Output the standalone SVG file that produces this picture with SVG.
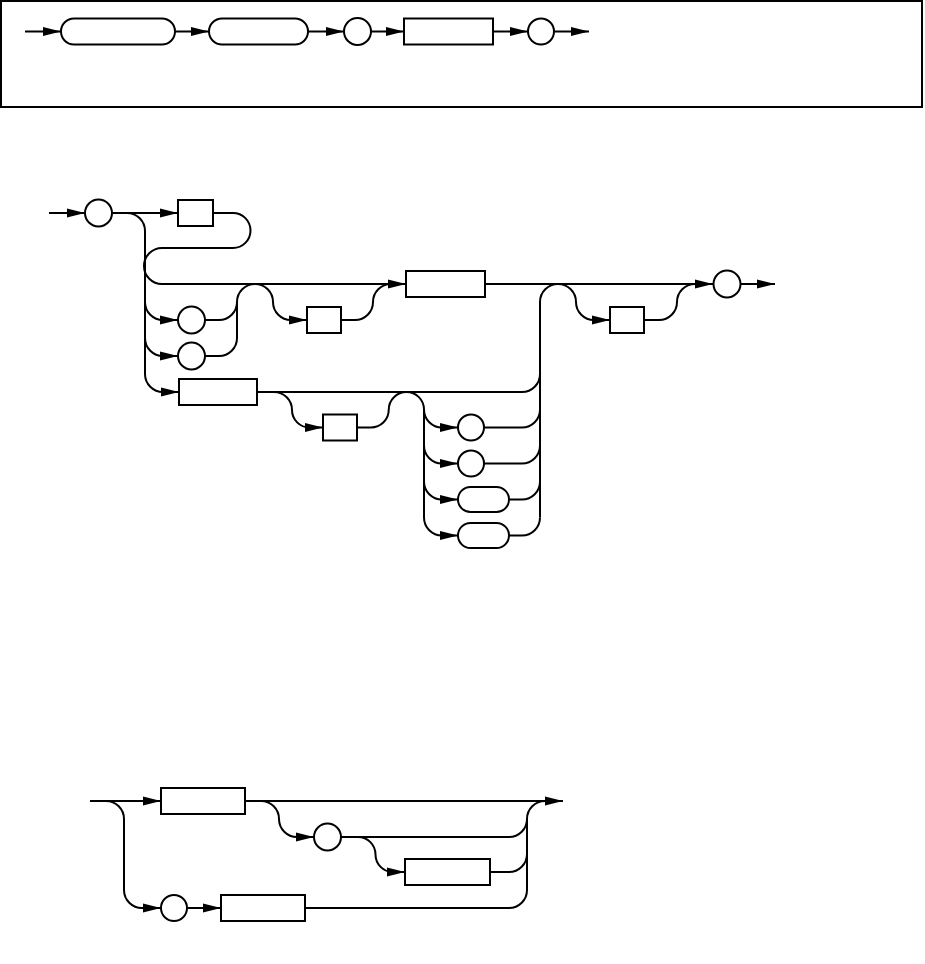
<svg xmlns="http://www.w3.org/2000/svg" xmlns:xlink="http://www.w3.org/1999/xlink" width="925" height="964" viewBox="0 0 925 964">
<style>
.n{fill:#fff;stroke:#000;stroke-width:2}
.c{fill:none;stroke:#000;stroke-width:2}
.fr{fill:#fff;stroke:#000;stroke-width:2}
</style>
<defs>
<path id="a" d="M0,0 L-18,-4.5 L-18,4.5 Z" fill="#000"/>
</defs>
<rect width="925" height="964" fill="#fff"/>
<rect class="fr" x="1" y="1" width="921" height="106"/>

<g id="connectors">
<!-- top row -->
<path class="c" d="M25,31.5 H61 M175,31.5 H209 M308,31.5 H344 M371,31.5 H404 M493,31.5 H528 M554,31.5 H589"/>
<use xlink:href="#a" x="61" y="31.5"/><use xlink:href="#a" x="209" y="31.5"/><use xlink:href="#a" x="344" y="31.5"/><use xlink:href="#a" x="404" y="31.5"/><use xlink:href="#a" x="528" y="31.5"/><use xlink:href="#a" x="589" y="31.5"/>

<!-- section 2 -->
<path class="c" d="M49,213 H85"/>
<use xlink:href="#a" x="85" y="213"/>
<path class="c" d="M112,213 H178"/>
<use xlink:href="#a" x="178" y="213"/>
<path class="c" d="M213,213 H233 A17.5,17.5 0 0 1 233,248 H162 A18,18 0 0 0 162,284 H713"/>
<use xlink:href="#a" x="406" y="284"/>
<use xlink:href="#a" x="713" y="284"/>
<path class="c" d="M741,284 H775"/>
<use xlink:href="#a" x="775" y="284"/>
<path class="c" d="M127,213 A18,18 0 0 1 145,231 V374 A18,18 0 0 0 163,392 H179"/>
<use xlink:href="#a" x="179" y="392"/>
<path class="c" d="M145,302 A18,18 0 0 0 163,320 H178"/>
<use xlink:href="#a" x="178" y="320"/>
<path class="c" d="M145,338 A18,18 0 0 0 163,356 H178"/>
<use xlink:href="#a" x="178" y="356"/>
<path class="c" d="M205,320 H219 A18,18 0 0 0 237,302 A18,18 0 0 1 255,284 A18,18 0 0 1 273,302 A18,18 0 0 0 291,320 H307"/>
<path class="c" d="M205,356 H219 A18,18 0 0 0 237,338 V302"/>
<use xlink:href="#a" x="307" y="320"/>
<path class="c" d="M341,320 H355 A18,18 0 0 0 373,302 A18,18 0 0 1 391,284"/>
<path class="c" d="M540,517.5 V302 A18,18 0 0 1 558,284 A18,18 0 0 1 576,302 A18,18 0 0 0 594,320 H610"/>
<use xlink:href="#a" x="610" y="320"/>
<path class="c" d="M644,320 H659 A18,18 0 0 0 677,302 A18,18 0 0 1 695,284"/>
<path class="c" d="M257,392 H522 A18,18 0 0 0 540,374"/>
<path class="c" d="M274,392 A18,18 0 0 1 292,410 A17.5,17.5 0 0 0 309.5,427.5 H323"/>
<use xlink:href="#a" x="323" y="427.5"/>
<path class="c" d="M357,427.5 H371 A17.75,17.75 0 0 0 388.75,409.75 A17.75,17.75 0 0 1 406.5,392 A17.5,17.5 0 0 1 424,409.5 V517.5 A18,18 0 0 0 442,535.5 H458"/>
<path class="c" d="M424,409.5 A18,18 0 0 0 442,427.5 H458"/>
<path class="c" d="M424,445.5 A18,18 0 0 0 442,463.5 H458"/>
<path class="c" d="M424,481.5 A18,18 0 0 0 442,499.5 H458"/>
<use xlink:href="#a" x="458" y="427.5"/><use xlink:href="#a" x="458" y="463.5"/><use xlink:href="#a" x="458" y="499.5"/><use xlink:href="#a" x="458" y="535.5"/>
<path class="c" d="M484,427.5 H522 A18,18 0 0 0 540,409.5"/>
<path class="c" d="M484,463.5 H522 A18,18 0 0 0 540,445.5"/>
<path class="c" d="M509,499.5 H522 A18,18 0 0 0 540,481.5"/>
<path class="c" d="M509,535.5 H522 A18,18 0 0 0 540,517.5"/>

<!-- section 3 -->
<path class="c" d="M90,801 H161 M245,801 H563"/>
<use xlink:href="#a" x="161" y="801"/>
<use xlink:href="#a" x="563" y="801"/>
<path class="c" d="M106,801 A18,18 0 0 1 124,819 V890 A18,18 0 0 0 142,908 H161"/>
<use xlink:href="#a" x="161" y="908"/>
<path class="c" d="M187,908 H221"/>
<use xlink:href="#a" x="221" y="908"/>
<path class="c" d="M305,908 H509 A18,18 0 0 0 527,890 V819 A18,18 0 0 1 545,801"/>
<path class="c" d="M261,801 A18,18 0 0 1 279,819 A18,18 0 0 0 297,837 H314"/>
<use xlink:href="#a" x="314" y="837"/>
<path class="c" d="M341,837 H509 A18,18 0 0 0 527,819"/>
<path class="c" d="M358,837 A17.5,17.5 0 0 1 375.5,854.5 A17.5,17.5 0 0 0 393,872 H405"/>
<use xlink:href="#a" x="405" y="872"/>
<path class="c" d="M490,872 H509 A18,18 0 0 0 527,854"/>
</g>

<!-- top row nodes -->
<g id="t1"><rect class="n" x="61" y="18.5" width="114" height="26" rx="13"/></g>
<g id="t2"><rect class="n" x="209" y="18.5" width="99" height="26" rx="13"/></g>
<g id="t3"><circle class="n" cx="357.5" cy="31.5" r="13.5"/></g>
<g id="t4"><rect class="n" x="404" y="18.5" width="89" height="26"/></g>
<g id="t5"><circle class="n" cx="541" cy="31.5" r="13"/></g>

<!-- section 2 nodes -->
<g id="s2c1"><circle class="n" cx="98.5" cy="213" r="13.5"/></g>
<g id="s2r1"><rect class="n" x="178" y="200" width="35" height="26"/></g>
<g id="s2c2"><circle class="n" cx="191.5" cy="320" r="13.5"/></g>
<g id="s2c3"><circle class="n" cx="191.5" cy="356" r="13.5"/></g>
<g id="s2r2"><rect class="n" x="307" y="307" width="34" height="26"/></g>
<g id="s2r3"><rect class="n" x="406" y="271" width="79" height="26"/></g>
<g id="s2r4"><rect class="n" x="610" y="307" width="34" height="26"/></g>
<g id="s2c4"><circle class="n" cx="727" cy="284" r="13.5"/></g>
<g id="s2r5"><rect class="n" x="179" y="379" width="78" height="26"/></g>
<g id="s2r6"><rect class="n" x="323" y="414.5" width="34" height="26"/></g>
<g id="s2c5"><circle class="n" cx="471" cy="427.5" r="13"/></g>
<g id="s2c6"><circle class="n" cx="471" cy="463.5" r="13"/></g>
<g id="s2s1"><rect class="n" x="458" y="487" width="51" height="25" rx="12.5"/></g>
<g id="s2s2"><rect class="n" x="458" y="523" width="51" height="25" rx="12.5"/></g>

<!-- section 3 nodes -->
<g id="s3r1"><rect class="n" x="161" y="788" width="84" height="26"/></g>
<g id="s3c1"><circle class="n" cx="327.5" cy="837" r="13.5"/></g>
<g id="s3r2"><rect class="n" x="405" y="859" width="85" height="26"/></g>
<g id="s3c2"><circle class="n" cx="174" cy="908" r="13"/></g>
<g id="s3r3"><rect class="n" x="221" y="895" width="84" height="26"/></g>
</svg>
